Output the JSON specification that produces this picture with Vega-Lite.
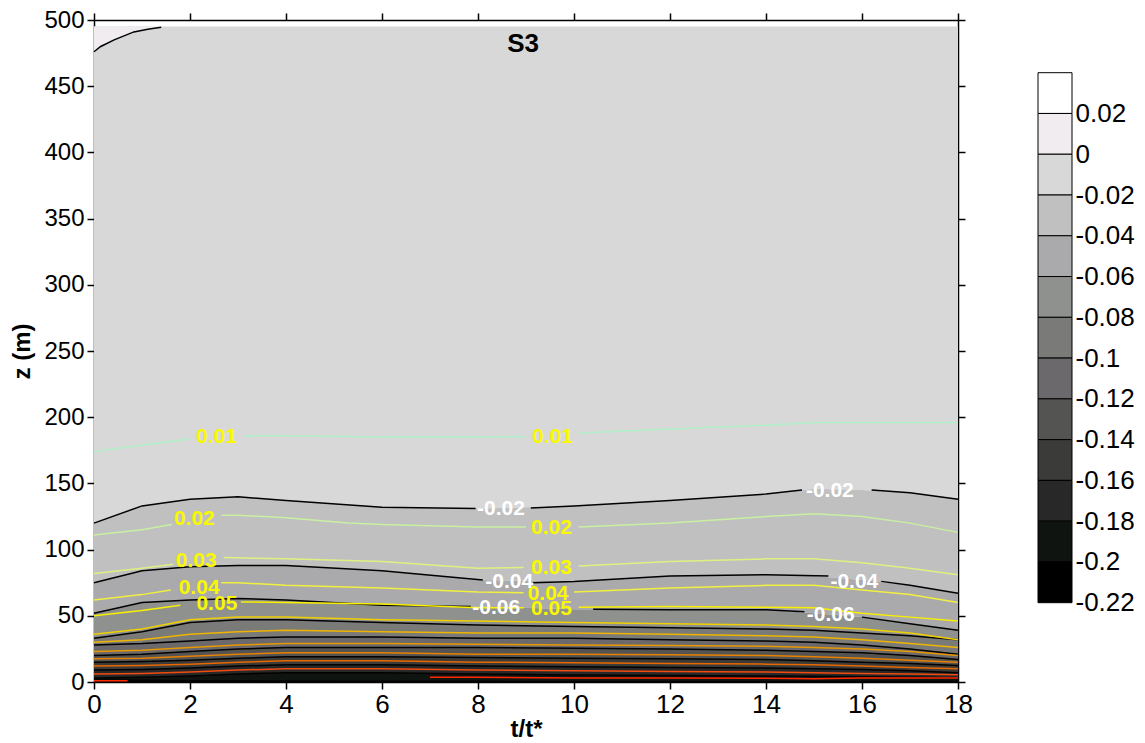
{
  "$schema": "https://vega.github.io/schema/vega-lite/v6.json",
  "background": "white",
  "padding": {"left": 10, "top": 8, "right": 5, "bottom": 2},
  "bounds": "flush",
  "spacing": 80,
  "config": {
    "view": {"stroke": null},
    "font": "Liberation Sans",
    "axis": {"grid": false, "domainColor": "#000000", "tickColor": "#000000", "labelColor": "#000000", "titleColor": "#000000", "labelFont": "Liberation Sans", "titleFont": "Liberation Sans", "labelOverlap": false}
  },
  "datasets": {
    "edges": [
      {"lev": 0, "t": 0, "z": 495}, {"lev": 0, "t": 1, "z": 495}, {"lev": 0, "t": 2, "z": 495}, {"lev": 0, "t": 3, "z": 495}, {"lev": 0, "t": 4, "z": 495}, {"lev": 0, "t": 6, "z": 495}, {"lev": 0, "t": 8, "z": 495}, {"lev": 0, "t": 10, "z": 495}, {"lev": 0, "t": 12, "z": 495}, {"lev": 0, "t": 14, "z": 495}, {"lev": 0, "t": 15, "z": 495}, {"lev": 0, "t": 16, "z": 495}, {"lev": 0, "t": 17, "z": 495}, {"lev": 0, "t": 18, "z": 495},
      {"lev": -0.02, "t": 0, "z": 120}, {"lev": -0.02, "t": 1, "z": 133}, {"lev": -0.02, "t": 2, "z": 138}, {"lev": -0.02, "t": 3, "z": 140}, {"lev": -0.02, "t": 4, "z": 137}, {"lev": -0.02, "t": 6, "z": 132}, {"lev": -0.02, "t": 8, "z": 131}, {"lev": -0.02, "t": 10, "z": 133}, {"lev": -0.02, "t": 12, "z": 137}, {"lev": -0.02, "t": 14, "z": 142}, {"lev": -0.02, "t": 15, "z": 146}, {"lev": -0.02, "t": 16, "z": 145}, {"lev": -0.02, "t": 17, "z": 143}, {"lev": -0.02, "t": 18, "z": 138},
      {"lev": -0.04, "t": 0, "z": 75}, {"lev": -0.04, "t": 1, "z": 84}, {"lev": -0.04, "t": 2, "z": 87}, {"lev": -0.04, "t": 3, "z": 88}, {"lev": -0.04, "t": 4, "z": 88}, {"lev": -0.04, "t": 6, "z": 84}, {"lev": -0.04, "t": 8, "z": 77}, {"lev": -0.04, "t": 10, "z": 76}, {"lev": -0.04, "t": 12, "z": 80}, {"lev": -0.04, "t": 14, "z": 81}, {"lev": -0.04, "t": 15, "z": 80}, {"lev": -0.04, "t": 16, "z": 77}, {"lev": -0.04, "t": 17, "z": 73}, {"lev": -0.04, "t": 18, "z": 67},
      {"lev": -0.06, "t": 0, "z": 52}, {"lev": -0.06, "t": 1, "z": 60}, {"lev": -0.06, "t": 2, "z": 62}, {"lev": -0.06, "t": 3, "z": 63}, {"lev": -0.06, "t": 4, "z": 62}, {"lev": -0.06, "t": 6, "z": 58}, {"lev": -0.06, "t": 8, "z": 57}, {"lev": -0.06, "t": 10, "z": 55}, {"lev": -0.06, "t": 12, "z": 54.5}, {"lev": -0.06, "t": 14, "z": 54.5}, {"lev": -0.06, "t": 15, "z": 52}, {"lev": -0.06, "t": 16, "z": 49}, {"lev": -0.06, "t": 17, "z": 44}, {"lev": -0.06, "t": 18, "z": 39},
      {"lev": -0.08, "t": 0, "z": 33}, {"lev": -0.08, "t": 1, "z": 38}, {"lev": -0.08, "t": 2, "z": 45}, {"lev": -0.08, "t": 3, "z": 47}, {"lev": -0.08, "t": 4, "z": 47}, {"lev": -0.08, "t": 6, "z": 45}, {"lev": -0.08, "t": 8, "z": 43}, {"lev": -0.08, "t": 10, "z": 42}, {"lev": -0.08, "t": 12, "z": 41}, {"lev": -0.08, "t": 14, "z": 40}, {"lev": -0.08, "t": 15, "z": 39}, {"lev": -0.08, "t": 16, "z": 37}, {"lev": -0.08, "t": 17, "z": 35}, {"lev": -0.08, "t": 18, "z": 32},
      {"lev": -0.1, "t": 0, "z": 28}, {"lev": -0.1, "t": 1, "z": 29}, {"lev": -0.1, "t": 2, "z": 31}, {"lev": -0.1, "t": 3, "z": 33}, {"lev": -0.1, "t": 4, "z": 34}, {"lev": -0.1, "t": 6, "z": 34}, {"lev": -0.1, "t": 8, "z": 33}, {"lev": -0.1, "t": 10, "z": 33}, {"lev": -0.1, "t": 12, "z": 32}, {"lev": -0.1, "t": 14, "z": 31}, {"lev": -0.1, "t": 15, "z": 30}, {"lev": -0.1, "t": 16, "z": 28}, {"lev": -0.1, "t": 17, "z": 25}, {"lev": -0.1, "t": 18, "z": 21},
      {"lev": -0.12, "t": 0, "z": 20}, {"lev": -0.12, "t": 1, "z": 21}, {"lev": -0.12, "t": 2, "z": 23}, {"lev": -0.12, "t": 3, "z": 25}, {"lev": -0.12, "t": 4, "z": 26}, {"lev": -0.12, "t": 6, "z": 26}, {"lev": -0.12, "t": 8, "z": 26}, {"lev": -0.12, "t": 10, "z": 25.5}, {"lev": -0.12, "t": 12, "z": 25}, {"lev": -0.12, "t": 14, "z": 24}, {"lev": -0.12, "t": 15, "z": 23}, {"lev": -0.12, "t": 16, "z": 22}, {"lev": -0.12, "t": 17, "z": 20}, {"lev": -0.12, "t": 18, "z": 17},
      {"lev": -0.14, "t": 0, "z": 15}, {"lev": -0.14, "t": 1, "z": 15.5}, {"lev": -0.14, "t": 2, "z": 16.5}, {"lev": -0.14, "t": 3, "z": 18}, {"lev": -0.14, "t": 4, "z": 19}, {"lev": -0.14, "t": 6, "z": 19}, {"lev": -0.14, "t": 8, "z": 18.5}, {"lev": -0.14, "t": 10, "z": 18}, {"lev": -0.14, "t": 12, "z": 17.5}, {"lev": -0.14, "t": 14, "z": 17}, {"lev": -0.14, "t": 15, "z": 16}, {"lev": -0.14, "t": 16, "z": 15}, {"lev": -0.14, "t": 17, "z": 14}, {"lev": -0.14, "t": 18, "z": 12.5},
      {"lev": -0.16, "t": 0, "z": 9}, {"lev": -0.16, "t": 1, "z": 9.5}, {"lev": -0.16, "t": 2, "z": 10.5}, {"lev": -0.16, "t": 3, "z": 12}, {"lev": -0.16, "t": 4, "z": 13}, {"lev": -0.16, "t": 6, "z": 13}, {"lev": -0.16, "t": 8, "z": 12}, {"lev": -0.16, "t": 10, "z": 11.5}, {"lev": -0.16, "t": 12, "z": 11}, {"lev": -0.16, "t": 14, "z": 10.5}, {"lev": -0.16, "t": 15, "z": 10}, {"lev": -0.16, "t": 16, "z": 9.5}, {"lev": -0.16, "t": 17, "z": 8.5}, {"lev": -0.16, "t": 18, "z": 7},
      {"lev": -0.18, "t": 0, "z": 3}, {"lev": -0.18, "t": 1, "z": 3.5}, {"lev": -0.18, "t": 2, "z": 4.5}, {"lev": -0.18, "t": 3, "z": 6}, {"lev": -0.18, "t": 4, "z": 7}, {"lev": -0.18, "t": 6, "z": 7}, {"lev": -0.18, "t": 8, "z": 6}, {"lev": -0.18, "t": 10, "z": 5.3}, {"lev": -0.18, "t": 12, "z": 5}, {"lev": -0.18, "t": 14, "z": 4.5}, {"lev": -0.18, "t": 15, "z": 4.3}, {"lev": -0.18, "t": 16, "z": 4}, {"lev": -0.18, "t": 17, "z": 3.5}, {"lev": -0.18, "t": 18, "z": 3},
      {"lev": -0.2, "t": 0, "z": 1.5}, {"lev": -0.2, "t": 1, "z": 1.3}, {"lev": -0.2, "t": 2, "z": 1}, {"lev": -0.2, "t": 3, "z": 1}, {"lev": -0.2, "t": 4, "z": 0.8}, {"lev": -0.2, "t": 6, "z": 0.5}, {"lev": -0.2, "t": 8, "z": 0.5}, {"lev": -0.2, "t": 10, "z": 0.3}, {"lev": -0.2, "t": 12, "z": 0.3}, {"lev": -0.2, "t": 14, "z": 0.3}, {"lev": -0.2, "t": 15, "z": 0.3}, {"lev": -0.2, "t": 16, "z": 0.3}, {"lev": -0.2, "t": 17, "z": 0.3}, {"lev": -0.2, "t": 18, "z": 0.5},
      {"lev": -0.22, "t": 0, "z": 0}, {"lev": -0.22, "t": 1, "z": 0}, {"lev": -0.22, "t": 2, "z": 0}, {"lev": -0.22, "t": 3, "z": 0}, {"lev": -0.22, "t": 4, "z": 0}, {"lev": -0.22, "t": 6, "z": 0}, {"lev": -0.22, "t": 8, "z": 0}, {"lev": -0.22, "t": 10, "z": 0}, {"lev": -0.22, "t": 12, "z": 0}, {"lev": -0.22, "t": 14, "z": 0}, {"lev": -0.22, "t": 15, "z": 0}, {"lev": -0.22, "t": 16, "z": 0}, {"lev": -0.22, "t": 17, "z": 0}, {"lev": -0.22, "t": 18, "z": 0}
    ],
    "lines": [
      {"lev": 0, "seg": 1, "t": 0, "z": 476}, {"lev": 0, "seg": 1, "t": 0.14, "z": 480}, {"lev": 0, "seg": 1, "t": 0.42, "z": 485}, {"lev": 0, "seg": 1, "t": 0.83, "z": 491}, {"lev": 0, "seg": 1, "t": 1.12, "z": 493}, {"lev": 0, "seg": 1, "t": 1.4, "z": 494.6},

      {"lev": -0.02, "seg": 1, "t": 0, "z": 120}, {"lev": -0.02, "seg": 1, "t": 1, "z": 133}, {"lev": -0.02, "seg": 1, "t": 2, "z": 138}, {"lev": -0.02, "seg": 1, "t": 3, "z": 140}, {"lev": -0.02, "seg": 1, "t": 4, "z": 137}, {"lev": -0.02, "seg": 1, "t": 6, "z": 132}, {"lev": -0.02, "seg": 1, "t": 7.95, "z": 131},
      {"lev": -0.02, "seg": 2, "t": 9.1, "z": 131.5}, {"lev": -0.02, "seg": 2, "t": 10, "z": 133}, {"lev": -0.02, "seg": 2, "t": 12, "z": 137}, {"lev": -0.02, "seg": 2, "t": 14, "z": 142}, {"lev": -0.02, "seg": 2, "t": 14.75, "z": 145},
      {"lev": -0.02, "seg": 3, "t": 16.2, "z": 145}, {"lev": -0.02, "seg": 3, "t": 17, "z": 143}, {"lev": -0.02, "seg": 3, "t": 18, "z": 138},

      {"lev": -0.04, "seg": 1, "t": 0, "z": 75}, {"lev": -0.04, "seg": 1, "t": 1, "z": 84}, {"lev": -0.04, "seg": 1, "t": 2, "z": 87}, {"lev": -0.04, "seg": 1, "t": 3, "z": 88}, {"lev": -0.04, "seg": 1, "t": 4, "z": 88}, {"lev": -0.04, "seg": 1, "t": 6, "z": 84}, {"lev": -0.04, "seg": 1, "t": 8.1, "z": 77},
      {"lev": -0.04, "seg": 2, "t": 9.15, "z": 75}, {"lev": -0.04, "seg": 2, "t": 10, "z": 76}, {"lev": -0.04, "seg": 2, "t": 12, "z": 80}, {"lev": -0.04, "seg": 2, "t": 14, "z": 81}, {"lev": -0.04, "seg": 2, "t": 15.3, "z": 80},
      {"lev": -0.04, "seg": 3, "t": 16.4, "z": 76}, {"lev": -0.04, "seg": 3, "t": 17, "z": 73}, {"lev": -0.04, "seg": 3, "t": 18, "z": 67},

      {"lev": -0.06, "seg": 1, "t": 0, "z": 52}, {"lev": -0.06, "seg": 1, "t": 1, "z": 60}, {"lev": -0.06, "seg": 1, "t": 2, "z": 62}, {"lev": -0.06, "seg": 1, "t": 3, "z": 63}, {"lev": -0.06, "seg": 1, "t": 4, "z": 62}, {"lev": -0.06, "seg": 1, "t": 6, "z": 58}, {"lev": -0.06, "seg": 1, "t": 7.85, "z": 57},
      {"lev": -0.06, "seg": 2, "t": 10.4, "z": 55}, {"lev": -0.06, "seg": 2, "t": 12, "z": 54.5}, {"lev": -0.06, "seg": 2, "t": 14, "z": 54.5}, {"lev": -0.06, "seg": 2, "t": 14.8, "z": 53},
      {"lev": -0.06, "seg": 3, "t": 16, "z": 49}, {"lev": -0.06, "seg": 3, "t": 17, "z": 44}, {"lev": -0.06, "seg": 3, "t": 18, "z": 39},

      {"lev": -0.08, "seg": 1, "t": 0, "z": 33}, {"lev": -0.08, "seg": 1, "t": 1, "z": 38}, {"lev": -0.08, "seg": 1, "t": 2, "z": 45}, {"lev": -0.08, "seg": 1, "t": 3, "z": 47}, {"lev": -0.08, "seg": 1, "t": 4, "z": 47}, {"lev": -0.08, "seg": 1, "t": 6, "z": 45}, {"lev": -0.08, "seg": 1, "t": 8, "z": 43}, {"lev": -0.08, "seg": 1, "t": 10, "z": 42}, {"lev": -0.08, "seg": 1, "t": 12, "z": 41}, {"lev": -0.08, "seg": 1, "t": 14, "z": 40}, {"lev": -0.08, "seg": 1, "t": 15, "z": 39}, {"lev": -0.08, "seg": 1, "t": 16, "z": 37}, {"lev": -0.08, "seg": 1, "t": 17, "z": 35}, {"lev": -0.08, "seg": 1, "t": 18, "z": 32},
      {"lev": -0.1, "seg": 1, "t": 0, "z": 28}, {"lev": -0.1, "seg": 1, "t": 1, "z": 29}, {"lev": -0.1, "seg": 1, "t": 2, "z": 31}, {"lev": -0.1, "seg": 1, "t": 3, "z": 33}, {"lev": -0.1, "seg": 1, "t": 4, "z": 34}, {"lev": -0.1, "seg": 1, "t": 6, "z": 34}, {"lev": -0.1, "seg": 1, "t": 8, "z": 33}, {"lev": -0.1, "seg": 1, "t": 10, "z": 33}, {"lev": -0.1, "seg": 1, "t": 12, "z": 32}, {"lev": -0.1, "seg": 1, "t": 14, "z": 31}, {"lev": -0.1, "seg": 1, "t": 15, "z": 30}, {"lev": -0.1, "seg": 1, "t": 16, "z": 28}, {"lev": -0.1, "seg": 1, "t": 17, "z": 25}, {"lev": -0.1, "seg": 1, "t": 18, "z": 21},
      {"lev": -0.12, "seg": 1, "t": 0, "z": 20}, {"lev": -0.12, "seg": 1, "t": 1, "z": 21}, {"lev": -0.12, "seg": 1, "t": 2, "z": 23}, {"lev": -0.12, "seg": 1, "t": 3, "z": 25}, {"lev": -0.12, "seg": 1, "t": 4, "z": 26}, {"lev": -0.12, "seg": 1, "t": 6, "z": 26}, {"lev": -0.12, "seg": 1, "t": 8, "z": 26}, {"lev": -0.12, "seg": 1, "t": 10, "z": 25.5}, {"lev": -0.12, "seg": 1, "t": 12, "z": 25}, {"lev": -0.12, "seg": 1, "t": 14, "z": 24}, {"lev": -0.12, "seg": 1, "t": 15, "z": 23}, {"lev": -0.12, "seg": 1, "t": 16, "z": 22}, {"lev": -0.12, "seg": 1, "t": 17, "z": 20}, {"lev": -0.12, "seg": 1, "t": 18, "z": 17},
      {"lev": -0.14, "seg": 1, "t": 0, "z": 15}, {"lev": -0.14, "seg": 1, "t": 1, "z": 15.5}, {"lev": -0.14, "seg": 1, "t": 2, "z": 16.5}, {"lev": -0.14, "seg": 1, "t": 3, "z": 18}, {"lev": -0.14, "seg": 1, "t": 4, "z": 19}, {"lev": -0.14, "seg": 1, "t": 6, "z": 19}, {"lev": -0.14, "seg": 1, "t": 8, "z": 18.5}, {"lev": -0.14, "seg": 1, "t": 10, "z": 18}, {"lev": -0.14, "seg": 1, "t": 12, "z": 17.5}, {"lev": -0.14, "seg": 1, "t": 14, "z": 17}, {"lev": -0.14, "seg": 1, "t": 15, "z": 16}, {"lev": -0.14, "seg": 1, "t": 16, "z": 15}, {"lev": -0.14, "seg": 1, "t": 17, "z": 14}, {"lev": -0.14, "seg": 1, "t": 18, "z": 12.5},
      {"lev": -0.16, "seg": 1, "t": 0, "z": 9}, {"lev": -0.16, "seg": 1, "t": 1, "z": 9.5}, {"lev": -0.16, "seg": 1, "t": 2, "z": 10.5}, {"lev": -0.16, "seg": 1, "t": 3, "z": 12}, {"lev": -0.16, "seg": 1, "t": 4, "z": 13}, {"lev": -0.16, "seg": 1, "t": 6, "z": 13}, {"lev": -0.16, "seg": 1, "t": 8, "z": 12}, {"lev": -0.16, "seg": 1, "t": 10, "z": 11.5}, {"lev": -0.16, "seg": 1, "t": 12, "z": 11}, {"lev": -0.16, "seg": 1, "t": 14, "z": 10.5}, {"lev": -0.16, "seg": 1, "t": 15, "z": 10}, {"lev": -0.16, "seg": 1, "t": 16, "z": 9.5}, {"lev": -0.16, "seg": 1, "t": 17, "z": 8.5}, {"lev": -0.16, "seg": 1, "t": 18, "z": 7},
      {"lev": -0.18, "seg": 1, "t": 0, "z": 3}, {"lev": -0.18, "seg": 1, "t": 1, "z": 3.5}, {"lev": -0.18, "seg": 1, "t": 2, "z": 4.5}, {"lev": -0.18, "seg": 1, "t": 3, "z": 6}, {"lev": -0.18, "seg": 1, "t": 4, "z": 7}, {"lev": -0.18, "seg": 1, "t": 6, "z": 7}, {"lev": -0.18, "seg": 1, "t": 8, "z": 6}, {"lev": -0.18, "seg": 1, "t": 10, "z": 5.3}, {"lev": -0.18, "seg": 1, "t": 12, "z": 5}, {"lev": -0.18, "seg": 1, "t": 14, "z": 4.5}, {"lev": -0.18, "seg": 1, "t": 15, "z": 4.3}, {"lev": -0.18, "seg": 1, "t": 16, "z": 4}, {"lev": -0.18, "seg": 1, "t": 17, "z": 3.5}, {"lev": -0.18, "seg": 1, "t": 18, "z": 3},
      {"lev": -0.2, "seg": 1, "t": 0, "z": 1.5}, {"lev": -0.2, "seg": 1, "t": 1, "z": 1.3}, {"lev": -0.2, "seg": 1, "t": 2, "z": 1}, {"lev": -0.2, "seg": 1, "t": 3, "z": 1}, {"lev": -0.2, "seg": 1, "t": 4, "z": 0.8}, {"lev": -0.2, "seg": 1, "t": 6, "z": 0.5}, {"lev": -0.2, "seg": 1, "t": 8, "z": 0.5}, {"lev": -0.2, "seg": 1, "t": 10, "z": 0.3}, {"lev": -0.2, "seg": 1, "t": 18, "z": 0.5},

      {"lev": 0.01, "seg": 1, "t": 0, "z": 174}, {"lev": 0.01, "seg": 1, "t": 1, "z": 179}, {"lev": 0.01, "seg": 1, "t": 1.98, "z": 183.5},
      {"lev": 0.01, "seg": 2, "t": 3.12, "z": 186}, {"lev": 0.01, "seg": 2, "t": 4, "z": 186}, {"lev": 0.01, "seg": 2, "t": 6, "z": 185}, {"lev": 0.01, "seg": 2, "t": 8, "z": 185}, {"lev": 0.01, "seg": 2, "t": 9.0, "z": 185.5},
      {"lev": 0.01, "seg": 3, "t": 10.1, "z": 188}, {"lev": 0.01, "seg": 3, "t": 12, "z": 191}, {"lev": 0.01, "seg": 3, "t": 14, "z": 194}, {"lev": 0.01, "seg": 3, "t": 15, "z": 196}, {"lev": 0.01, "seg": 3, "t": 16, "z": 196}, {"lev": 0.01, "seg": 3, "t": 17, "z": 196}, {"lev": 0.01, "seg": 3, "t": 18, "z": 196},

      {"lev": 0.02, "seg": 1, "t": 0, "z": 111}, {"lev": 0.02, "seg": 1, "t": 1, "z": 115}, {"lev": 0.02, "seg": 1, "t": 1.62, "z": 119},
      {"lev": 0.02, "seg": 2, "t": 2.65, "z": 126}, {"lev": 0.02, "seg": 2, "t": 3, "z": 126}, {"lev": 0.02, "seg": 2, "t": 4, "z": 124}, {"lev": 0.02, "seg": 2, "t": 5.3, "z": 120}, {"lev": 0.02, "seg": 2, "t": 6, "z": 119}, {"lev": 0.02, "seg": 2, "t": 8, "z": 117}, {"lev": 0.02, "seg": 2, "t": 9.0, "z": 117},
      {"lev": 0.02, "seg": 3, "t": 10.1, "z": 117}, {"lev": 0.02, "seg": 3, "t": 12, "z": 120}, {"lev": 0.02, "seg": 3, "t": 14, "z": 125}, {"lev": 0.02, "seg": 3, "t": 15, "z": 127}, {"lev": 0.02, "seg": 3, "t": 16, "z": 125}, {"lev": 0.02, "seg": 3, "t": 17, "z": 120}, {"lev": 0.02, "seg": 3, "t": 18, "z": 113},

      {"lev": 0.03, "seg": 1, "t": 0, "z": 82}, {"lev": 0.03, "seg": 1, "t": 1, "z": 86}, {"lev": 0.03, "seg": 1, "t": 1.65, "z": 89},
      {"lev": 0.03, "seg": 2, "t": 2.7, "z": 94}, {"lev": 0.03, "seg": 2, "t": 4, "z": 93}, {"lev": 0.03, "seg": 2, "t": 6, "z": 91}, {"lev": 0.03, "seg": 2, "t": 8, "z": 86}, {"lev": 0.03, "seg": 2, "t": 8.95, "z": 86.5},
      {"lev": 0.03, "seg": 3, "t": 10.1, "z": 87.6}, {"lev": 0.03, "seg": 3, "t": 12, "z": 91}, {"lev": 0.03, "seg": 3, "t": 14, "z": 93}, {"lev": 0.03, "seg": 3, "t": 15, "z": 93}, {"lev": 0.03, "seg": 3, "t": 16, "z": 90}, {"lev": 0.03, "seg": 3, "t": 17, "z": 86}, {"lev": 0.03, "seg": 3, "t": 18, "z": 81},

      {"lev": 0.04, "seg": 1, "t": 0, "z": 62}, {"lev": 0.04, "seg": 1, "t": 1, "z": 66}, {"lev": 0.04, "seg": 1, "t": 1.6, "z": 69.5},
      {"lev": 0.04, "seg": 2, "t": 2.65, "z": 75}, {"lev": 0.04, "seg": 2, "t": 3, "z": 75}, {"lev": 0.04, "seg": 2, "t": 4, "z": 73}, {"lev": 0.04, "seg": 2, "t": 6, "z": 71}, {"lev": 0.04, "seg": 2, "t": 8, "z": 68}, {"lev": 0.04, "seg": 2, "t": 8.95, "z": 67.5},
      {"lev": 0.04, "seg": 3, "t": 10.0, "z": 68}, {"lev": 0.04, "seg": 3, "t": 12, "z": 71}, {"lev": 0.04, "seg": 3, "t": 14, "z": 73}, {"lev": 0.04, "seg": 3, "t": 15, "z": 73}, {"lev": 0.04, "seg": 3, "t": 16, "z": 69.5}, {"lev": 0.04, "seg": 3, "t": 17, "z": 66}, {"lev": 0.04, "seg": 3, "t": 18, "z": 60},

      {"lev": 0.05, "seg": 1, "t": 0, "z": 50}, {"lev": 0.05, "seg": 1, "t": 1, "z": 54}, {"lev": 0.05, "seg": 1, "t": 1.8, "z": 58},
      {"lev": 0.05, "seg": 2, "t": 3.06, "z": 60.5}, {"lev": 0.05, "seg": 2, "t": 4, "z": 60}, {"lev": 0.05, "seg": 2, "t": 6, "z": 59}, {"lev": 0.05, "seg": 2, "t": 8, "z": 56}, {"lev": 0.05, "seg": 2, "t": 8.95, "z": 56},
      {"lev": 0.05, "seg": 3, "t": 10.1, "z": 56.5}, {"lev": 0.05, "seg": 3, "t": 12, "z": 57}, {"lev": 0.05, "seg": 3, "t": 14, "z": 56.5}, {"lev": 0.05, "seg": 3, "t": 15, "z": 56}, {"lev": 0.05, "seg": 3, "t": 16, "z": 52}, {"lev": 0.05, "seg": 3, "t": 17, "z": 49}, {"lev": 0.05, "seg": 3, "t": 18, "z": 46},

      {"lev": 0.06, "seg": 1, "t": 0, "z": 36}, {"lev": 0.06, "seg": 1, "t": 1, "z": 40}, {"lev": 0.06, "seg": 1, "t": 2, "z": 47}, {"lev": 0.06, "seg": 1, "t": 3, "z": 49}, {"lev": 0.06, "seg": 1, "t": 4, "z": 49}, {"lev": 0.06, "seg": 1, "t": 6, "z": 47}, {"lev": 0.06, "seg": 1, "t": 8, "z": 46}, {"lev": 0.06, "seg": 1, "t": 10, "z": 45}, {"lev": 0.06, "seg": 1, "t": 12, "z": 44}, {"lev": 0.06, "seg": 1, "t": 14, "z": 43}, {"lev": 0.06, "seg": 1, "t": 15, "z": 42}, {"lev": 0.06, "seg": 1, "t": 16, "z": 40}, {"lev": 0.06, "seg": 1, "t": 17, "z": 37}, {"lev": 0.06, "seg": 1, "t": 18, "z": 32},
      {"lev": 0.07, "seg": 1, "t": 0, "z": 30}, {"lev": 0.07, "seg": 1, "t": 1, "z": 32}, {"lev": 0.07, "seg": 1, "t": 2, "z": 36}, {"lev": 0.07, "seg": 1, "t": 3, "z": 38}, {"lev": 0.07, "seg": 1, "t": 4, "z": 39}, {"lev": 0.07, "seg": 1, "t": 6, "z": 38}, {"lev": 0.07, "seg": 1, "t": 8, "z": 37}, {"lev": 0.07, "seg": 1, "t": 10, "z": 37}, {"lev": 0.07, "seg": 1, "t": 12, "z": 36}, {"lev": 0.07, "seg": 1, "t": 14, "z": 35}, {"lev": 0.07, "seg": 1, "t": 15, "z": 34}, {"lev": 0.07, "seg": 1, "t": 16, "z": 32}, {"lev": 0.07, "seg": 1, "t": 17, "z": 29}, {"lev": 0.07, "seg": 1, "t": 18, "z": 26},
      {"lev": 0.08, "seg": 1, "t": 0, "z": 23}, {"lev": 0.08, "seg": 1, "t": 1, "z": 24}, {"lev": 0.08, "seg": 1, "t": 2, "z": 26}, {"lev": 0.08, "seg": 1, "t": 3, "z": 28}, {"lev": 0.08, "seg": 1, "t": 4, "z": 29}, {"lev": 0.08, "seg": 1, "t": 6, "z": 29}, {"lev": 0.08, "seg": 1, "t": 8, "z": 28.5}, {"lev": 0.08, "seg": 1, "t": 10, "z": 28}, {"lev": 0.08, "seg": 1, "t": 12, "z": 27.5}, {"lev": 0.08, "seg": 1, "t": 14, "z": 27}, {"lev": 0.08, "seg": 1, "t": 15, "z": 26}, {"lev": 0.08, "seg": 1, "t": 16, "z": 25}, {"lev": 0.08, "seg": 1, "t": 17, "z": 23}, {"lev": 0.08, "seg": 1, "t": 18, "z": 20},
      {"lev": 0.09, "seg": 1, "t": 0, "z": 17.5}, {"lev": 0.09, "seg": 1, "t": 1, "z": 18}, {"lev": 0.09, "seg": 1, "t": 2, "z": 19.5}, {"lev": 0.09, "seg": 1, "t": 3, "z": 21}, {"lev": 0.09, "seg": 1, "t": 4, "z": 22}, {"lev": 0.09, "seg": 1, "t": 6, "z": 22}, {"lev": 0.09, "seg": 1, "t": 8, "z": 21}, {"lev": 0.09, "seg": 1, "t": 10, "z": 21}, {"lev": 0.09, "seg": 1, "t": 12, "z": 20.5}, {"lev": 0.09, "seg": 1, "t": 14, "z": 20}, {"lev": 0.09, "seg": 1, "t": 15, "z": 19}, {"lev": 0.09, "seg": 1, "t": 16, "z": 18}, {"lev": 0.09, "seg": 1, "t": 17, "z": 16.5}, {"lev": 0.09, "seg": 1, "t": 18, "z": 15},
      {"lev": 0.1, "seg": 1, "t": 0, "z": 12}, {"lev": 0.1, "seg": 1, "t": 1, "z": 12.5}, {"lev": 0.1, "seg": 1, "t": 2, "z": 13.5}, {"lev": 0.1, "seg": 1, "t": 3, "z": 15}, {"lev": 0.1, "seg": 1, "t": 4, "z": 16}, {"lev": 0.1, "seg": 1, "t": 6, "z": 16}, {"lev": 0.1, "seg": 1, "t": 8, "z": 15}, {"lev": 0.1, "seg": 1, "t": 10, "z": 14.5}, {"lev": 0.1, "seg": 1, "t": 12, "z": 14}, {"lev": 0.1, "seg": 1, "t": 14, "z": 13.5}, {"lev": 0.1, "seg": 1, "t": 15, "z": 13}, {"lev": 0.1, "seg": 1, "t": 16, "z": 12}, {"lev": 0.1, "seg": 1, "t": 17, "z": 11}, {"lev": 0.1, "seg": 1, "t": 18, "z": 10},
      {"lev": 0.11, "seg": 1, "t": 0, "z": 6}, {"lev": 0.11, "seg": 1, "t": 1, "z": 6.5}, {"lev": 0.11, "seg": 1, "t": 2, "z": 7.5}, {"lev": 0.11, "seg": 1, "t": 3, "z": 9}, {"lev": 0.11, "seg": 1, "t": 4, "z": 10}, {"lev": 0.11, "seg": 1, "t": 6, "z": 10}, {"lev": 0.11, "seg": 1, "t": 8, "z": 9}, {"lev": 0.11, "seg": 1, "t": 10, "z": 8.5}, {"lev": 0.11, "seg": 1, "t": 12, "z": 8}, {"lev": 0.11, "seg": 1, "t": 14, "z": 7.5}, {"lev": 0.11, "seg": 1, "t": 15, "z": 7}, {"lev": 0.11, "seg": 1, "t": 16, "z": 6.5}, {"lev": 0.11, "seg": 1, "t": 17, "z": 6}, {"lev": 0.11, "seg": 1, "t": 18, "z": 5.5},
      {"lev": 0.12, "seg": 1, "t": 0, "z": 1}, {"lev": 0.12, "seg": 1, "t": 0.7, "z": 1},
      {"lev": 0.12, "seg": 2, "t": 7, "z": 3.5}, {"lev": 0.12, "seg": 2, "t": 8, "z": 3.5}, {"lev": 0.12, "seg": 2, "t": 10, "z": 3}, {"lev": 0.12, "seg": 2, "t": 12, "z": 3}, {"lev": 0.12, "seg": 2, "t": 14, "z": 2.8}, {"lev": 0.12, "seg": 2, "t": 15, "z": 2.5}, {"lev": 0.12, "seg": 2, "t": 16, "z": 3}, {"lev": 0.12, "seg": 2, "t": 18, "z": 3}
    ],
    "labels": [
      {"t": 2.55, "z": 185, "txt": "0.01", "sign": "pos"},
      {"t": 9.55, "z": 185.3, "txt": "0.01", "sign": "pos"},
      {"t": 2.09, "z": 123, "txt": "0.02", "sign": "pos"},
      {"t": 9.53, "z": 116, "txt": "0.02", "sign": "pos"},
      {"t": 2.13, "z": 91.6, "txt": "0.03", "sign": "pos"},
      {"t": 9.53, "z": 85.8, "txt": "0.03", "sign": "pos"},
      {"t": 2.19, "z": 70.7, "txt": "0.04", "sign": "pos"},
      {"t": 9.46, "z": 66.5, "txt": "0.04", "sign": "pos"},
      {"t": 2.56, "z": 58.9, "txt": "0.05", "sign": "pos"},
      {"t": 9.53, "z": 54.9, "txt": "0.05", "sign": "pos"},
      {"t": 8.48, "z": 130.4, "txt": "-0.02", "sign": "neg"},
      {"t": 15.33, "z": 144.5, "txt": "-0.02", "sign": "neg"},
      {"t": 8.65, "z": 75.8, "txt": "-0.04", "sign": "neg"},
      {"t": 15.84, "z": 75.8, "txt": "-0.04", "sign": "neg"},
      {"t": 8.38, "z": 55.6, "txt": "-0.06", "sign": "neg"},
      {"t": 15.35, "z": 50.6, "txt": "-0.06", "sign": "neg"}
    ],
    "bar": [
      {"lo": 0.02, "hi": 0.04}, {"lo": 0, "hi": 0.02}, {"lo": -0.02, "hi": 0}, {"lo": -0.04, "hi": -0.02},
      {"lo": -0.06, "hi": -0.04}, {"lo": -0.08, "hi": -0.06}, {"lo": -0.1, "hi": -0.08}, {"lo": -0.12, "hi": -0.1},
      {"lo": -0.14, "hi": -0.12}, {"lo": -0.16, "hi": -0.14}, {"lo": -0.18, "hi": -0.16}, {"lo": -0.2, "hi": -0.18},
      {"lo": -0.22, "hi": -0.2}
    ]
  },
  "resolve": {"scale": {"fill": "independent"}},
  "hconcat": [
    {
      "width": 864,
      "height": 662,
      "resolve": {"axis": {"x": "independent", "y": "independent"}},
      "layer": [
        {
          "data": {"name": "edges"},
          "transform": [
            {"window": [{"op": "lag", "field": "z", "as": "zUp"}], "groupby": ["t"], "sort": [{"field": "lev", "order": "descending"}]},
            {"filter": {"field": "zUp", "valid": true}}
          ],
          "mark": {"type": "area", "interpolate": "linear", "opacity": 1},
          "encoding": {
            "x": {"field": "t", "type": "quantitative", "scale": {"domain": [0, 18], "nice": false, "zero": false},
              "axis": {"orient": "bottom", "values": [0, 2, 4, 6, 8, 10, 12, 14, 16, 18], "tickSize": 7, "tickWidth": 1.5, "domainWidth": 1.5, "labelFontSize": 26, "labelPadding": 2, "labelFlush": false, "title": "t/t*", "titleFontSize": 24, "titleFontWeight": "bold", "titlePadding": 0}},
            "y": {"field": "z", "type": "quantitative", "stack": null, "scale": {"domain": [0, 500], "nice": false},
              "axis": {"orient": "left", "values": [0, 50, 100, 150, 200, 250, 300, 350, 400, 450, 500], "tickSize": 7, "tickWidth": 1.5, "domainWidth": 1.5, "labelFontSize": 24, "labelPadding": 3, "labelFlush": false, "title": "z (m)", "titleFontSize": 24, "titleFontWeight": "bold", "titlePadding": 9}},
            "y2": {"field": "zUp"},
            "fill": {"field": "lev", "type": "nominal", "legend": null,
              "scale": {"domain": [0.02, 0, -0.02, -0.04, -0.06, -0.08, -0.1, -0.12, -0.14, -0.16, -0.18, -0.2, -0.22],
                "range": ["#ffffff", "#f0ecf0", "#d8d8d8", "#c0c0c0", "#aaa9ab", "#8f918e", "#7a7b79", "#6b696c", "#545553", "#3b3c39", "#282828", "#101410", "#000000"]}}
          }
        },
        {
          "data": {"name": "lines"},
          "transform": [{"filter": "datum.lev === 0"}],
          "mark": {"type": "area", "interpolate": "linear", "opacity": 1},
          "encoding": {
            "x": {"field": "t", "type": "quantitative", "axis": null},
            "y": {"field": "z", "type": "quantitative", "stack": null, "axis": null},
            "y2": {"datum": 495},
            "fill": {"field": "lev", "type": "nominal", "legend": null}
          }
        },
        {
          "data": {"name": "lines"},
          "mark": {"type": "line", "strokeWidth": 1.5, "interpolate": "linear"},
          "encoding": {
            "x": {"field": "t", "type": "quantitative",
              "axis": {"orient": "top", "values": [0, 2, 4, 6, 8, 10, 12, 14, 16, 18], "labels": false, "title": null, "tickSize": 7, "tickWidth": 1.5, "domainWidth": 1.5}},
            "y": {"field": "z", "type": "quantitative",
              "axis": {"orient": "right", "values": [0, 50, 100, 150, 200, 250, 300, 350, 400, 450, 500], "labels": false, "title": null, "tickSize": 7, "tickWidth": 1.5, "domainWidth": 1.5}},
            "detail": {"field": "seg", "type": "nominal"},
            "stroke": {"field": "lev", "type": "nominal", "legend": null,
              "scale": {"domain": [0.12, 0.11, 0.1, 0.09, 0.08, 0.07, 0.06, 0.05, 0.04, 0.03, 0.02, 0.01, 0, -0.02, -0.04, -0.06, -0.08, -0.1, -0.12, -0.14, -0.16, -0.18, -0.2],
                "range": ["#ff2800", "#f04c10", "#e86800", "#e88000", "#e89800", "#f0b400", "#f0d000", "#f8f000", "#f0f040", "#e0f080", "#c8f0a0", "#b0f0c8", "#000000", "#000000", "#000000", "#000000", "#000000", "#000000", "#000000", "#000000", "#000000", "#000000", "#000000"]}}
          }
        },
        {
          "data": {"name": "labels"},
          "mark": {"type": "text", "font": "Liberation Sans", "fontSize": 21, "fontWeight": "bold", "align": "center", "baseline": "middle"},
          "encoding": {
            "x": {"field": "t", "type": "quantitative", "axis": null},
            "y": {"field": "z", "type": "quantitative", "axis": null},
            "text": {"field": "txt"},
            "color": {"field": "sign", "type": "nominal", "legend": null, "scale": {"domain": ["pos", "neg"], "range": ["#f8f800", "#ffffff"]}}
          }
        },
        {
          "data": {"values": [{"t": 8.94, "z": 482, "txt": "S3"}]},
          "mark": {"type": "text", "font": "Liberation Sans", "fontSize": 26, "fontWeight": "bold", "align": "center", "baseline": "middle", "color": "#000000"},
          "encoding": {
            "x": {"field": "t", "type": "quantitative", "axis": null},
            "y": {"field": "z", "type": "quantitative", "axis": null},
            "text": {"field": "txt"}
          }
        }
      ]
    },
    {
      "width": 34,
      "height": 662,
      "data": {"name": "bar"},
      "mark": {"type": "rect", "stroke": "#000000", "strokeWidth": 1},
      "encoding": {
        "y": {"field": "hi", "type": "quantitative", "scale": {"domain": [-0.2589, 0.06585], "nice": false, "zero": false},
          "axis": {"orient": "right", "values": [0.02, 0, -0.02, -0.04, -0.06, -0.08, -0.1, -0.12, -0.14, -0.16, -0.18, -0.2, -0.22], "domain": false, "ticks": false, "labelFontSize": 26, "labelPadding": 3, "labelFlush": false, "title": null, "labelExpr": "replace(format(datum.value, '~g'), '\u2212', '-')"}},
        "y2": {"field": "lo"},
        "fill": {"field": "lo", "type": "nominal", "legend": null,
          "scale": {"domain": [0.02, 0, -0.02, -0.04, -0.06, -0.08, -0.1, -0.12, -0.14, -0.16, -0.18, -0.2, -0.22],
            "range": ["#ffffff", "#f0ecf0", "#d8d8d8", "#c0c0c0", "#aaa9ab", "#8f918e", "#7a7b79", "#6b696c", "#545553", "#3b3c39", "#282828", "#101410", "#000000"]}}
      }
    }
  ]
}
